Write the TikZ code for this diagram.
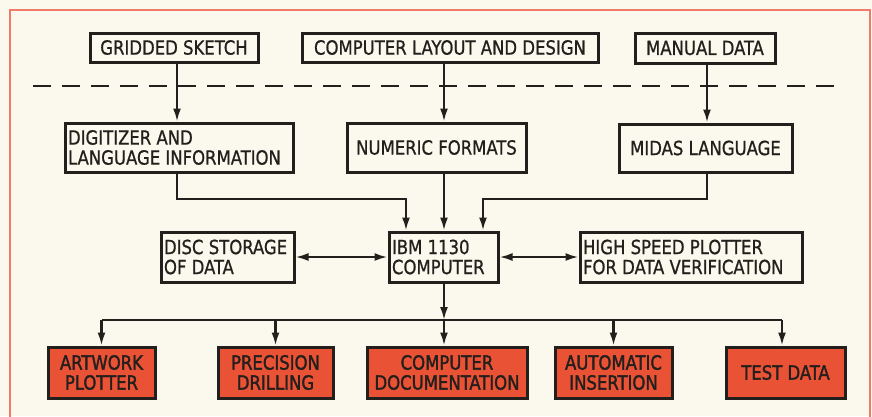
\documentclass[tikz,border=0pt]{standalone}
\usepackage{fontspec}
\setmainfont{DejaVu Sans Condensed}[FakeBold=0.8,FakeStretch=0.94]
\newfontfamily\redfont{DejaVu Sans Condensed}[FakeBold=1.6,FakeStretch=0.94]
\usetikzlibrary{arrows.meta}
\definecolor{paper}{HTML}{FBF9EE}
\definecolor{frame}{HTML}{F27A68}
\definecolor{redbox}{HTML}{EA5236}
\definecolor{ink}{HTML}{231F1C}
\tikzset{
  box/.style={draw=ink, line width=3pt, inner sep=3pt, font=\fontsize{19.5}{20}\selectfont, text=ink},
  lbox/.style={box, align=flush left},
  cbox/.style={box, align=center},
  rbox/.style={box, fill=redbox, align=center, font=\fontsize{19.5}{20}\redfont},
  tip/.tip={Latex[length=13pt,width=8pt]},
  arr/.style={draw=ink, line width=2.2pt, -tip},
  darr/.style={draw=ink, line width=2.2pt, tip-tip},
  ln/.style={draw=ink, line width=2.2pt},
}
\begin{document}
\begin{tikzpicture}[x=1pt,y=-1pt]
\fill[paper] (0,0) rectangle (872,416);
\useasboundingbox (0,0) rectangle (872,416);
\draw[frame, line width=2pt] (10,420) -- (10,10) -- (870,10) -- (870,420);
\draw[ink, line width=2pt, dash pattern=on 18pt off 11pt] (33,86) -- (845,86);
% top row
\node[cbox, minimum width=168pt, minimum height=29pt] (gs) at (174,47.5) {GRIDDED SKETCH};
\node[cbox, minimum width=296pt, minimum height=29pt] (cl) at (450,47.5) {COMPUTER LAYOUT AND DESIGN};
\node[cbox, minimum width=140pt, minimum height=30pt] (md) at (705,48) {MANUAL DATA};
% second row
\node[lbox, text width=222pt, minimum height=49pt] (dig) at (179,147.5) {DIGITIZER AND\\LANGUAGE INFORMATION};
\node[cbox, minimum width=179pt, minimum height=49pt] (nf) at (436.5,147.5) {NUMERIC FORMATS};
\node[cbox, minimum width=173pt, minimum height=48pt] (mid) at (705.5,148) {MIDAS LANGUAGE};
% third row
\node[lbox, text width=103pt, minimum height=50pt] (ibm) at (443.5,257) {IBM 1130\\COMPUTER};
\node[lbox, text width=127pt, minimum height=50pt] (disc) at (227.5,257) {DISC STORAGE\\OF DATA};
\node[lbox, text width=216pt, minimum height=50pt] (hsp) at (691,257) {HIGH SPEED PLOTTER\\FOR DATA VERIFICATION};
% bottom row
\node[rbox, minimum width=107pt, minimum height=51pt] (art) at (101.5,372.5) {ARTWORK\\PLOTTER};
\node[rbox, minimum width=115pt, minimum height=51pt] (pre) at (275.5,372.5) {PRECISION\\DRILLING};
\node[rbox, minimum width=160pt, minimum height=51pt] (cd) at (447,372.5) {COMPUTER\\DOCUMENTATION};
\node[rbox, minimum width=117pt, minimum height=51pt] (aut) at (613.5,372.5) {AUTOMATIC\\INSERTION};
\node[rbox, minimum width=119pt, minimum height=51pt] (td) at (785.5,372.5) {TEST DATA};
% coordinates
\coordinate (jl) at (177,199);
\coordinate (jr) at (707,199);
\coordinate (br) at (444,320);
% top to second row
\draw[arr] (gs.south -| jl) -- (dig.north -| jl);
\draw[arr] (cl.south -| br) -- (nf.north -| br);
\draw[arr] (md.south -| jr) -- (mid.north -| jr);
% second row to computer
\draw[arr] (dig.south -| jl) -- (jl) -- (406,199) -- (ibm.north -| 406,0);
\draw[arr] (nf.south -| br) -- (ibm.north -| br);
\draw[arr] (mid.south -| jr) -- (jr) -- (483,199) -- (ibm.north -| 483,0);
% side links
\draw[darr] (disc.east) -- (ibm.west);
\draw[darr] (ibm.east) -- (hsp.west);
% outputs
\draw[arr] (ibm.south -| br) -- (br);
\draw[ln] (art.north |- br) -- (782,320);
\draw[arr] (art.north |- br) -- (art.north);
\draw[arr] (pre.north |- br) -- (pre.north);
\draw[arr] (br) -- (cd.north -| br);
\draw[arr] (aut.north |- br) -- (aut.north);
\draw[arr] (782,320) -- (td.north -| 782,0);
\end{tikzpicture}
\end{document}
